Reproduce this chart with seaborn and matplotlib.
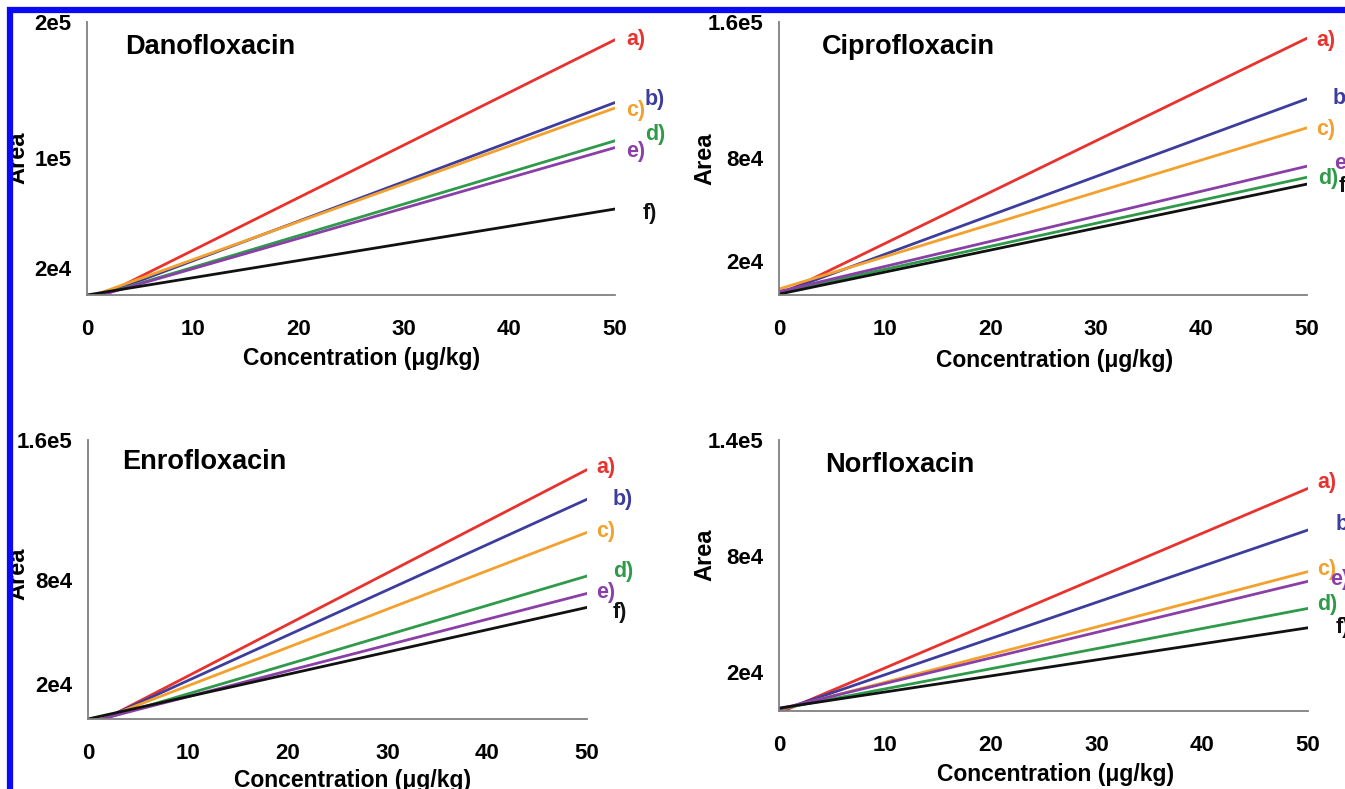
import matplotlib
matplotlib.use("Agg")
import numpy as np
import pandas as pd
import seaborn as sns
import matplotlib.pyplot as plt
from matplotlib.patches import Rectangle

sns.set_style("white")
plt.rcParams["font.family"] = ["Liberation Sans", "DejaVu Sans"]
plt.rcParams["font.weight"] = "bold"
plt.rcParams["text.color"] = "black"
plt.rcParams["axes.labelcolor"] = "black"

# ------------ Data ------------
series = ["a)", "b)", "c)", "d)", "e)", "f)"]
colors = ["#e8322e", "#3d3d9e", "#f4a02c", "#2e9a4a", "#8a3fa6", "#111111"]
conc = [0, 50]

dano_start = [-6000, -4000, -2000, -3000, -3000, 0]
dano_end = [187000, 141000, 137000, 113000, 108000, 63000]

cipro_start = [0, 1000, 3500, 1500, 2000, 500]
cipro_end = [150500, 115000, 98000, 69000, 75500, 65000]

enro_start = [-5000, -4000, -3000, -2500, -2000, 0]
enro_end = [143000, 126000, 107000, 82000, 72000, 64000]

norflo_start = [-1000, 0, 500, 1000, 1000, 1500]
norflo_end = [115000, 93500, 72000, 53000, 67000, 43000]

dano_ymax, cipro_ymax, enro_ymax, norflo_ymax = 2e5, 1.6e5, 1.6e5, 1.4e5
dano_ylabels = {2e4: "2e4", 1e5: "1e5", 2e5: "2e5"}
cipro_ylabels = {2e4: "2e4", 8e4: "8e4", 1.6e5: "1.6e5"}
enro_ylabels = {2e4: "2e4", 8e4: "8e4", 1.6e5: "1.6e5"}
norflo_ylabels = {2e4: "2e4", 8e4: "8e4", 1.4e5: "1.4e5"}
xticks = [0, 10, 20, 30, 40, 50]

# ------------ Layout (pixels) ------------
W, H = 1345, 789
panels = [
    # name, start, end, ymax, ylabels, (l, t, r, b), title offset, label offsets, xlabel offset, ylabel offset
    ("Danofloxacin", dano_start, dano_end, dano_ymax, dano_ylabels, (87, 22, 615, 295),
     (38, -25), [(11, 0), (30, 3), (11, -3), (30, 6), (11, -4), (28, -4)], (11, -63), (-69, 158)),
    ("Ciprofloxacin", cipro_start, cipro_end, cipro_ymax, cipro_ylabels, (779, 22, 1307, 295),
     (43, -25), [(9, -2), (26, 0), (9, -2), (11, -1), (27, 3), (32, -2)], (12, -65), (-74, 159)),
    ("Enrofloxacin", enro_start, enro_end, enro_ymax, enro_ylabels, (88, 440, 587, 719),
     (34, -22), [(9, 2), (26, 0), (9, 1), (26, 5), (9, 1), (26, -5)], (15, -61), (-70, 574)),
    ("Norfloxacin", norflo_start, norflo_end, norflo_ymax, norflo_ylabels, (779, 440, 1308, 711),
     (46, -25), [(9, 6), (28, 6), (9, 2), (9, 4), (22, 2), (28, 0)], (12, -64), (-74, 555)),
]

fig = plt.figure(figsize=(W / 100, H / 100), dpi=100)
fig.patch.set_facecolor("white")

axis_grey = "#808080"

for name, start, end, ymax, ylabels, box, toff, loffs, xloff, yloff in panels:
    l, t, r, b = box
    ax = fig.add_axes([l / W, (H - b) / H, (r - l) / W, (b - t) / H])
    w_px, h_px = r - l, b - t

    df = pd.DataFrame({
        "conc": conc * len(series),
        "area": [v for s, e in zip(start, end) for v in (s, e)],
        "series": [s for s in series for _ in conc],
    })
    sns.lineplot(data=df, x="conc", y="area", hue="series", palette=colors,
                 linewidth=2.0, legend=False, ax=ax)

    ax.set_xlim(0, 50)
    ax.set_ylim(0, ymax)
    yt = np.arange(0, ymax + 1, 2e4)
    ax.set_yticks(yt)
    ax.set_yticklabels([ylabels.get(round(v, -3), "") for v in yt])
    ax.set_xticks(xticks)
    ax.set_xticklabels([str(v) for v in xticks])

    sns.despine(ax=ax)
    for sp in ["left", "bottom"]:
        ax.spines[sp].set_color(axis_grey)
        ax.spines[sp].set_linewidth(1.3)
    ax.tick_params(axis="both", direction="out", colors=axis_grey, width=1.2,
                   labelcolor="black", labelsize=16)
    ax.tick_params(axis="y", length=5, pad=6)
    ax.tick_params(axis="x", length=6, pad=11)
    for lab in ax.get_xticklabels() + ax.get_yticklabels():
        lab.set_fontweight("bold")

    ax.set_xlabel("Concentration (μg/kg)", fontsize=16.5, fontweight="bold", va="center")
    ax.xaxis.set_label_coords(0.5 + xloff[0] / w_px, xloff[1] / h_px)
    ax.set_ylabel("Area", fontsize=17, fontweight="bold", va="center")
    ax.yaxis.set_label_coords(yloff[0] / w_px, (b - yloff[1]) / h_px)

    ax.annotate(name, xy=(0, 1), xycoords="axes fraction", xytext=toff,
                textcoords="offset pixels", ha="left", va="center",
                fontsize=19.5, fontweight="bold", color="black")

    for lab, c, e, (dx, dy) in zip(series, colors, end, loffs):
        ax.annotate(lab, xy=(50, e), xytext=(dx, dy), textcoords="offset pixels",
                    ha="left", va="center", color=c, fontsize=15.5,
                    fontweight="bold", annotation_clip=False)

# blue frame along top and left edges
fig.patches.append(Rectangle((10, -20), W + 40, H - 10 + 20, transform=None,
                             fill=False, edgecolor="#0a0af5", linewidth=4.5,
                             zorder=10))

fig.savefig("out.png", dpi=100)
